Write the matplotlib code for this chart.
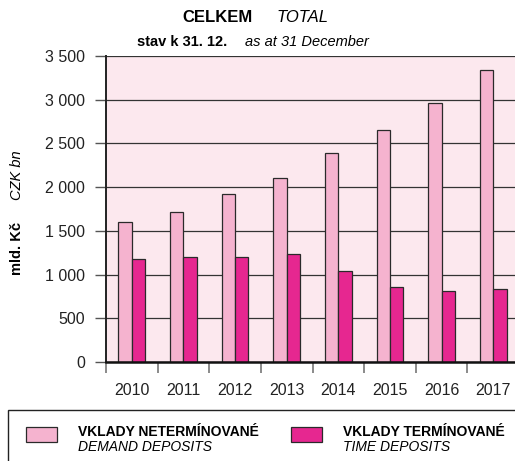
import matplotlib
matplotlib.use("Agg")
import matplotlib.pyplot as plt
from matplotlib.patches import Rectangle
import numpy as np

plt.rcParams['font.family'] = ['Liberation Sans', 'DejaVu Sans']

years = ['2010', '2011', '2012', '2013', '2014', '2015', '2016', '2017']
demand = [1605, 1713, 1919, 2110, 2389, 2657, 2962, 3336]
time_dep = [1174, 1197, 1204, 1231, 1040, 860, 807, 830]
yticks = [0, 500, 1000, 1500, 2000, 2500, 3000, 3500]
ytick_labels = ['0', '500', '1 000', '1 500', '2 000', '2 500', '3 000', '3 500']

C_DEMAND = '#F5B3CF'
C_TIME = '#E62790'
C_BG = '#FCE8EE'

W, H = 515, 461
fig = plt.figure(figsize=(W / 100, H / 100), dpi=100)
ax = fig.add_axes([106 / W, 1 - 362 / H, 413 / W, 306 / H])
ax.set_facecolor(C_BG)

x = np.arange(len(years))
bw = 0.26
ax.bar(x - bw / 2, demand, bw, color=C_DEMAND, edgecolor='#2a2a2a', linewidth=0.9, zorder=3)
ax.bar(x + bw / 2, time_dep, bw, color=C_TIME, edgecolor='#2a2a2a', linewidth=0.9, zorder=3)

ax.set_xlim(-0.5, len(years) - 0.5)
ax.set_ylim(0, 3500)
ax.set_yticks(yticks)
ax.set_yticklabels(ytick_labels, fontsize=11.5, color='#222222')
ax.yaxis.grid(True, color='#333333', linewidth=0.9, zorder=1)
ax.set_axisbelow(True)

ax.set_xticks(x)
ax.set_xticklabels(years, fontsize=11.5, color='#222222')
ax.tick_params(axis='x', which='major', length=0, pad=15)
ax.set_xticks(np.arange(-0.5, len(years) + 0.5, 1), minor=True)
ax.tick_params(axis='x', which='minor', length=8, width=1.2, color='#777777', direction='out')
ax.tick_params(axis='y', length=8, width=1.0, color='#555555', direction='out', pad=7)

for s in ['top', 'right']:
    ax.spines[s].set_visible(False)
ax.spines['left'].set_linewidth(1.4)
ax.spines['bottom'].set_linewidth(1.8)
ax.spines['left'].set_color('#222222')
ax.spines['bottom'].set_color('#111111')
ax.spines['bottom'].set_zorder(5)

def fx(px):
    return px / W

def fy(py):
    return 1 - py / H

# titles
fig.text(fx(253), fy(18), 'CELKEM', fontsize=12, fontweight='bold', ha='right', va='center')
fig.text(fx(277), fy(18), 'TOTAL', fontsize=12, fontstyle='italic', ha='left', va='center')
fig.text(fx(227), fy(42), 'stav k 31. 12.', fontsize=10.5, fontweight='bold', ha='right', va='center')
fig.text(fx(245), fy(42), 'as at 31 December', fontsize=10.5, fontstyle='italic', ha='left', va='center')

# y labels
fig.text(fx(17), fy(248), 'mld. Kč', fontsize=10.5, fontweight='bold', rotation=90, ha='center', va='center')
fig.text(fx(17), fy(175), 'CZK bn', fontsize=10.5, fontstyle='italic', rotation=90, ha='center', va='center')

# legend box
fig.patches.append(Rectangle((fx(8), fy(470)), fx(520), (470 - 410) / H, transform=fig.transFigure,
                             facecolor='none', edgecolor='#222222', linewidth=1.0, clip_on=False))
for px, col, t1, t2 in [(26, C_DEMAND, 'VKLADY NETERMÍNOVANÉ', 'DEMAND DEPOSITS'),
                        (291, C_TIME, 'VKLADY TERMÍNOVANÉ', 'TIME DEPOSITS')]:
    fig.patches.append(Rectangle((fx(px), fy(442)), 31 / W, 15 / H, transform=fig.transFigure,
                                 facecolor=col, edgecolor='#2a2a2a', linewidth=0.9))
    fig.text(fx(px + 52), fy(432), t1, fontsize=10, fontweight='bold', ha='left', va='center')
    fig.text(fx(px + 52), fy(447), t2, fontsize=10, fontstyle='italic', ha='left', va='center')

fig.savefig('out.png', dpi=100)
